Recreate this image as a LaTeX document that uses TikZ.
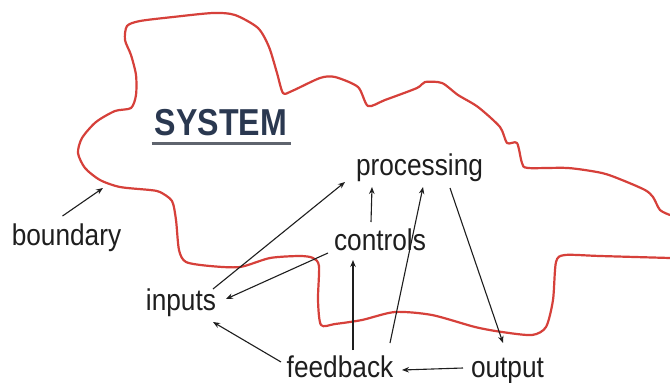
\documentclass[tikz,border=0pt]{standalone}
\usepackage{fontspec}
\setmainfont{Liberation Sans}
\usetikzlibrary{arrows.meta,calc}
\definecolor{bndred}{RGB}{214,64,58}
\definecolor{inkc}{RGB}{30,30,30}
\definecolor{titlec}{RGB}{42,56,80}
\definecolor{ulinec}{RGB}{95,100,110}
\newcommand{\lbl}[1]{\scalebox{0.875}[1]{#1}}
\tikzset{
  lab/.style={anchor=base,inner sep=0pt,text=inkc,font=\fontsize{30}{36}\selectfont},
  arr/.style={draw=inkc,line width=1.1pt,-{Stealth[length=7pt,width=5.5pt]}},
  bline/.style={draw=bndred,line width=2.2pt,line join=round,line cap=round}
}
\begin{document}
\begin{tikzpicture}[x=1pt,y=-1pt]
\useasboundingbox[fill=white] (0,0) rectangle (670,383);
% boundary outline
\draw[bline] plot[smooth,tension=0.45] coordinates {
(670,258) (600,256) (565,255) (556,262) (553,300) (546,327) (532,335) (502,332)
(475,327) (432,315) (395,312) (362,320) (335,324) (321,325) (318,300) (319,266)
(313,258) (300,256) (270,258) (240,267) (210,266) (186,262) (179,250) (176,220)
(172,201) (160,192) (150,190) (120,187) (100,180) (85,168) (78,153) (82,138)
(96,122) (115,111) (131,108) (136,95) (136,75) (131,55) (125,40) (127,26)
(140,21) (173,17) (213,13) (235,15) (258,28) (269,47) (277,73) (283,93)
(292,91) (320,78) (335,77) (358,87) (368,106) (385,100) (417,88) (425,82)
(442,83) (458,95) (478,107) (500,127) (507,143) (517,143) (522,163) (528,168)
(568,168) (602,173) (622,180) (645,190) (653,197) (660,210) (670,215)};
% title
\node[anchor=base,inner sep=0pt,text=titlec,font=\fontsize{37.5}{42}\selectfont\bfseries] (system) at (221,135) {\scalebox{0.857}[1]{SYSTEM}};
\draw[draw=ulinec,line width=3pt] ($(system.base west)+(-3,8)$) -- ($(system.base east)+(4,8)$);
% labels
\node[lab] (boundary) at (66.5,245) {\lbl{boundary}};
\node[lab] (inputs) at (181,310) {\lbl{inputs}};
\node[lab] (controls) at (380,250) {\lbl{controls}};
\node[lab] (processing) at (419.5,175) {\lbl{processing}};
\node[lab] (feedback) at (340,377) {\lbl{feedback}};
\node[lab] (output) at (507.5,377) {\lbl{output}};
\coordinate (bnd) at (103,188);
% connectors
\draw[arr] ($(boundary.base)+(-4,-29)$) -- (bnd);
\draw[arr] ($(inputs.base)+(32,-21)$) -- ($(processing.base)+(-74.5,7)$);
\draw[arr] ($(controls.base)+(-52,3)$) -- ($(inputs.base)+(45,-11)$);
\draw[arr] ($(controls.base)+(-9,-28)$) -- ($(processing.base)+(-47.5,12)$);
\draw[arr] ($(feedback.base)+(13,-27)$) -- ($(controls.base)+(-27,10)$);
\draw[arr] ($(feedback.base)+(50,-34)$) -- ($(processing.base)+(3.5,12)$);
\draw[arr] ($(processing.base)+(30.5,13)$) -- ($(output.base)+(-4.5,-34)$);
\draw[arr] ($(output.base)+(-44.5,-9)$) -- ($(feedback.base)+(62,-7)$);
\draw[arr] ($(feedback.base)+(-59,-15)$) -- ($(inputs.base)+(32,12)$);
\end{tikzpicture}
\end{document}
